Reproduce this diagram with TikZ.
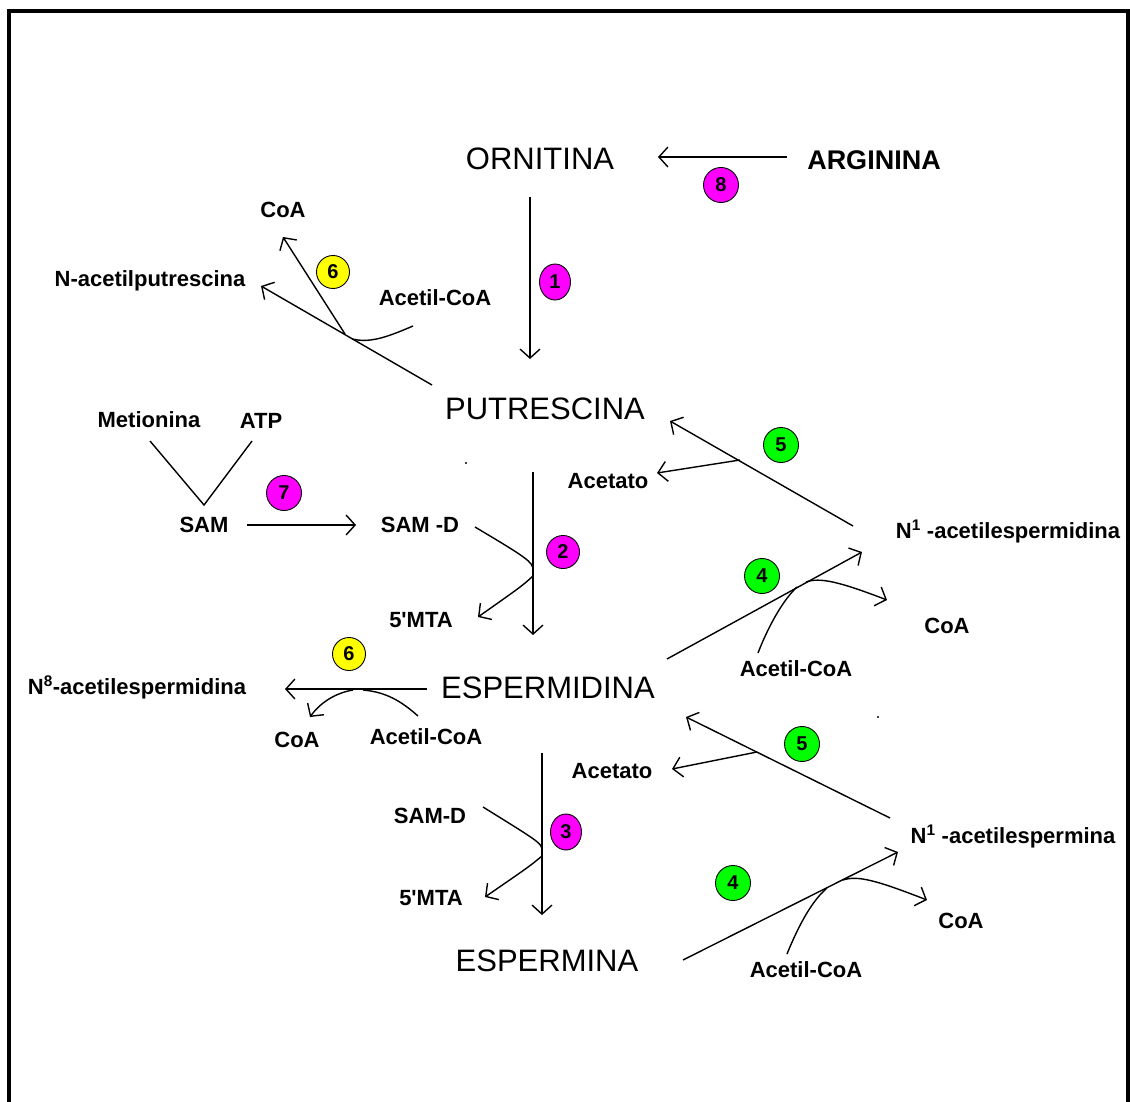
\documentclass[tikz,border=0pt]{standalone}
\usepackage{fontspec}
\setmainfont{Liberation Sans}[Ligatures=TeXOff]
\usetikzlibrary{arrows.meta,shapes.geometric}
\definecolor{mag}{RGB}{255,0,255}
\definecolor{yel}{RGB}{255,255,0}
\definecolor{grn}{RGB}{0,255,0}
\tikzset{
  big/.style={font=\fontsize{31}{34}\selectfont, inner sep=0pt, anchor=base},
  lab/.style={font=\fontsize{22}{24}\selectfont\bfseries, inner sep=0pt, anchor=base},
  badge/.style={circle, draw=black, line width=0.9pt, minimum size=35pt, inner sep=0pt,
    font=\fontsize{20}{20}\selectfont\bfseries},
  ovalbadge/.style={ellipse, draw=black, line width=0.9pt, minimum width=31pt,
    minimum height=36pt, inner sep=0pt, font=\fontsize{20}{20}\selectfont\bfseries},
  rx/.style={line width=1.4pt, -{Straight Barb[length=9pt,width=20pt,line width=1.4pt]}},
  ln/.style={line width=1.4pt},
}
\begin{document}
\begin{tikzpicture}[x=1pt,y=-1pt]
\useasboundingbox (0,0) rectangle (1130,1102);
\fill[white] (0,0) rectangle (1130,1102);
% frame
\draw[line width=4pt] (9,1104) -- (9,11) -- (1128,11) -- (1128,1104);
% stray dots
\fill (466,463) circle (1.2pt);
\fill (878,717) circle (1.2pt);

% main compounds
\node[big] (orn) at (540,170) {ORNITINA};
\node[lab, font=\fontsize{27}{30}\selectfont\bfseries] (arg) at (874,170) {ARGININA};
\node[big] (put) at (545,419) {PUTRESCINA};
\node[big] (spd) at (548,698) {ESPERMIDINA};
\node[big] (spm) at (547,971) {ESPERMINA};

% small labels
\node[lab] (coa1) at (283,218) {CoA};
\node[lab] (nap) at (150,286) {N-acetilputrescina};
\node[lab] (ac1) at (435,305) {Acetil-CoA};
\node[lab] (met) at (149,427) {Metionina};
\node[lab] (atp) at (261,428) {ATP};
\node[lab] (sam) at (204,532) {SAM};
\node[lab] (samd1) at (420,532) {SAM -D};
\node[lab] (acet1) at (608,488) {Acetato};
\node[lab] (n1spd) at (1008,538) {N\textsuperscript{1} -acetilespermidina};
\node[lab] (mta1) at (421,627) {5'MTA};
\node[lab] (coa2) at (947,633) {CoA};
\node[lab] (ac2) at (796,676) {Acetil-CoA};
\node[lab] (n8spd) at (137,694) {N\textsuperscript{8}-acetilespermidina};
\node[lab] (coa3) at (297,747) {CoA};
\node[lab] (ac3) at (426,744) {Acetil-CoA};
\node[lab] (acet2) at (612,778) {Acetato};
\node[lab] (samd2) at (430,823) {SAM-D};
\node[lab] (n1spm) at (1013,843) {N\textsuperscript{1} -acetilespermina};
\node[lab] (mta2) at (431,905) {5'MTA};
\node[lab] (coa4) at (961,928) {CoA};
\node[lab] (ac4) at (806,977) {Acetil-CoA};

% badges
\node[badge, fill=mag] (b8) at (721,185) {8};
\node[ovalbadge, fill=mag] (b1) at (555,282) {1};
\node[badge, fill=yel, minimum size=33pt] (b6a) at (333,272) {6};
\node[badge, fill=mag] (b7) at (284,493) {7};
\node[badge, fill=mag, minimum size=33pt] (b2) at (563,552) {2};
\node[badge, fill=grn] (b5a) at (781,445) {5};
\node[badge, fill=grn] (b4a) at (762,576) {4};
\node[badge, fill=yel, minimum size=33pt] (b6b) at (349,654) {6};
\node[badge, fill=grn] (b5b) at (802,744) {5};
\node[ovalbadge, fill=mag] (b3) at (566,832) {3};
\node[badge, fill=grn] (b4b) at (733,883) {4};

% connector end points
\coordinate (r8a) at (787,157); \coordinate (r8b) at (658,157);
\coordinate (r1a) at (530,197); \coordinate (r1b) at (530,359);
\coordinate (r6a) at (432,385); \coordinate (r6b) at (261,286);
\coordinate (r6c) at (345,334); \coordinate (r6d) at (283,237);
\coordinate (r6e) at (413,326); \coordinate (r6f) at (352,339);
\coordinate (r2a) at (533,472); \coordinate (r2b) at (533,635);
\coordinate (r2c) at (475,527); \coordinate (r2d) at (533,570);
\coordinate (r2e) at (533,576); \coordinate (r2f) at (478,617);
\coordinate (vm) at (150,441); \coordinate (vb) at (204,505); \coordinate (va) at (252,441);
\coordinate (r7a) at (247,525); \coordinate (r7b) at (356,525);
\coordinate (r5a) at (853,526); \coordinate (r5b) at (670,421);
\coordinate (r5c) at (740,460); \coordinate (r5d) at (657,473);
\coordinate (r4a) at (667,659); \coordinate (r4b) at (862,552);
\coordinate (r4c) at (806,582); \coordinate (r4d) at (887,600);
\coordinate (r4e) at (758,653); \coordinate (r4f) at (797,587);
\coordinate (r9a) at (427,689); \coordinate (r9b) at (285,689);
\coordinate (r9c) at (353,690); \coordinate (r9d) at (310,717);
\coordinate (r9e) at (418,716); \coordinate (r9f) at (363,690);
\coordinate (r3a) at (542,753); \coordinate (r3b) at (542,915);
\coordinate (r3c) at (483,807); \coordinate (r3d) at (542,850);
\coordinate (r3e) at (542,856); \coordinate (r3f) at (485,897);
\coordinate (s5a) at (890,818); \coordinate (s5b) at (686,717);
\coordinate (s5c) at (757,752); \coordinate (s5d) at (672,769);
\coordinate (s4a) at (683,960); \coordinate (s4b) at (898,852);
\coordinate (s4c) at (843,880); \coordinate (s4d) at (927,900);
\coordinate (s4e) at (787,954); \coordinate (s4f) at (827,888);

% reaction 8
\draw[rx] (r8a) -- (r8b);
% reaction 1
\draw[rx] (r1a) -- (r1b);
% reaction 6 (putrescina)
\draw[rx] (r6a) -- (r6b);
\draw[rx] (r6c) -- (r6d);
\draw[ln] (r6e) .. controls (385,338) and (370,343) .. (r6f);
% reaction 7
\draw[ln] (vm) -- (vb) -- (va);
\draw[rx] (r7a) -- (r7b);
% reaction 2
\draw[rx] (r2a) -- (r2b);
\draw[ln] (r2c) .. controls (527,558) and (533,562) .. (r2d);
\draw[rx] (r2e) .. controls (522,586) .. (r2f);
% reaction 5 (top)
\draw[rx] (r5a) -- (r5b);
\draw[rx] (r5c) -- (r5d);
% reaction 4 (top)
\draw[rx] (r4a) -- (r4b);
\draw[rx] (r4c) .. controls (820,577) and (840,582) .. (r4d);
\draw[ln] (r4e) .. controls (770,622) and (785,598) .. (r4f);
% reaction 6 (espermidina)
\draw[rx] (r9a) -- (r9b);
\draw[rx] (r9c) .. controls (335,693) and (320,703) .. (r9d);
\draw[ln] (r9e) .. controls (400,700) and (385,692) .. (r9f);
% reaction 3
\draw[rx] (r3a) -- (r3b);
\draw[ln] (r3c) .. controls (536,840) and (542,843) .. (r3d);
\draw[rx] (r3e) .. controls (530,866) .. (r3f);
% reaction 5 (bottom)
\draw[rx] (s5a) -- (s5b);
\draw[rx] (s5c) -- (s5d);
% reaction 4 (bottom)
\draw[rx] (s4a) -- (s4b);
\draw[rx] (s4c) .. controls (858,875) and (878,881) .. (s4d);
\draw[ln] (s4e) .. controls (800,922) and (813,900) .. (s4f);
\end{tikzpicture}
\end{document}
